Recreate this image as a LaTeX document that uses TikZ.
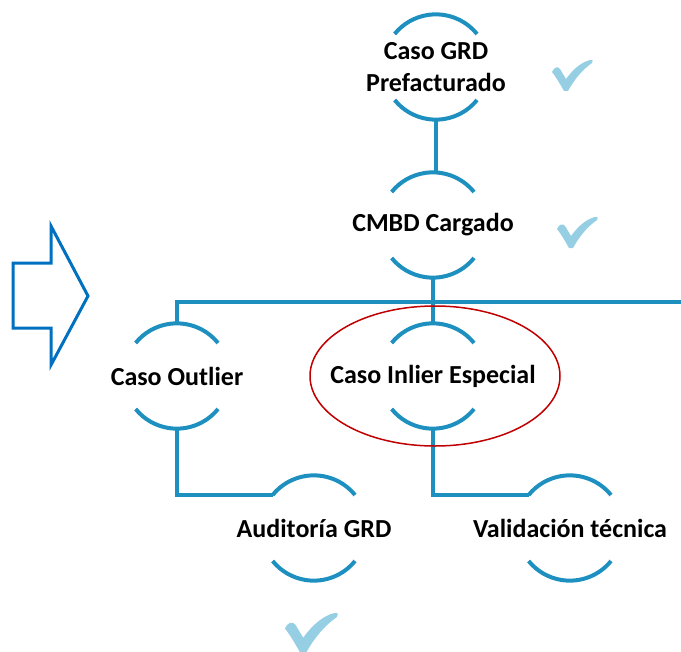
\documentclass[tikz,border=0pt]{standalone}
\usepackage{fontspec}
\setmainfont{Carlito}
\usetikzlibrary{calc}
\definecolor{linec}{RGB}{30,144,192}
\definecolor{arrowc}{RGB}{0,112,192}
\definecolor{tickc}{RGB}{150,207,228}
\definecolor{redc}{RGB}{192,0,0}
\tikzset{
  stepnode/.style={inner sep=0pt, draw=none,
    font=\fontsize{26bp}{32bp}\selectfont\bfseries, align=center},
  conn/.style={draw=linec, line width=4bp},
  arcline/.style={draw=linec, line width=4bp},
  tick/.pic={\fill[tickc] (0,12) .. controls (2,7) and (6,6) .. (8,9) -- (14,19)
      .. controls (22,8) and (30,2) .. (38,0) .. controls (41,0) .. (40,3)
      .. controls (30,10) and (22,20) .. (16,31) -- (12,31)
      .. controls (8,24) and (4,17) .. (0,12) -- cycle;}
}
\begin{document}
\begin{tikzpicture}[x=1bp,y=-1bp]
\useasboundingbox (0,0) rectangle (681,652);
% nodes
\node[stepnode] (grd) at (436,67) {Caso GRD\\Prefacturado};
\node[stepnode] (cmbd) at (433,225) {CMBD Cargado};
\node[stepnode] (outlier) at (177,376) {Caso Outlier};
\node[stepnode] (inlier) at (433,376) {Caso Inlier Especial};
\node[stepnode] (audit) at (314,528) {Auditoría GRD};
\node[stepnode] (valid) at (570,528) {Validación técnica};
% arcs and anchor points
\foreach \n in {grd,cmbd,outlier,inlier,audit,valid}{
  \draw[arcline] ($(\n)+(41,-33)$) arc[start angle=-39,end angle=-141,radius=53];
  \draw[arcline] ($(\n)+(41,33)$) arc[start angle=39,end angle=141,radius=53];
  \coordinate (\n-t) at ($(\n)+(0,-53)$);
  \coordinate (\n-b) at ($(\n)+(0,53)$);
  \coordinate (\n-l) at ($(\n)+(-41,-33)$);
}
% connectors
\coordinate (busR) at (681,302);
\draw[conn] (grd-b) -- (grd-b |- cmbd-t);
\draw[conn] (cmbd-b) -- (cmbd-b |- busR);
\draw[conn] (outlier-t) -- (outlier-t |- busR) -- (busR);
\draw[conn] (inlier-t) -- (inlier-t |- busR);
\draw[conn] (outlier-b) |- (audit-l);
\draw[conn] (inlier-b) |- (valid-l);
% red ellipse
\draw[redc, line width=1.5bp] ($(inlier)+(2,0)$) ellipse [x radius=125, y radius=70];
% block arrow
\coordinate (arr) at (13,263);
\draw[arrowc, line width=3bp, miter limit=10]
  (arr) -- ++(38,0) -- ++(0,-37) -- (88,296) -- (51,365) -- (51,328) -- (13,328) -- cycle;
% ticks
\pic at (552,60) {tick};
\pic at (557,217) {tick};
\pic[scale=1.3] at (285,613) {tick};
\end{tikzpicture}
\end{document}
